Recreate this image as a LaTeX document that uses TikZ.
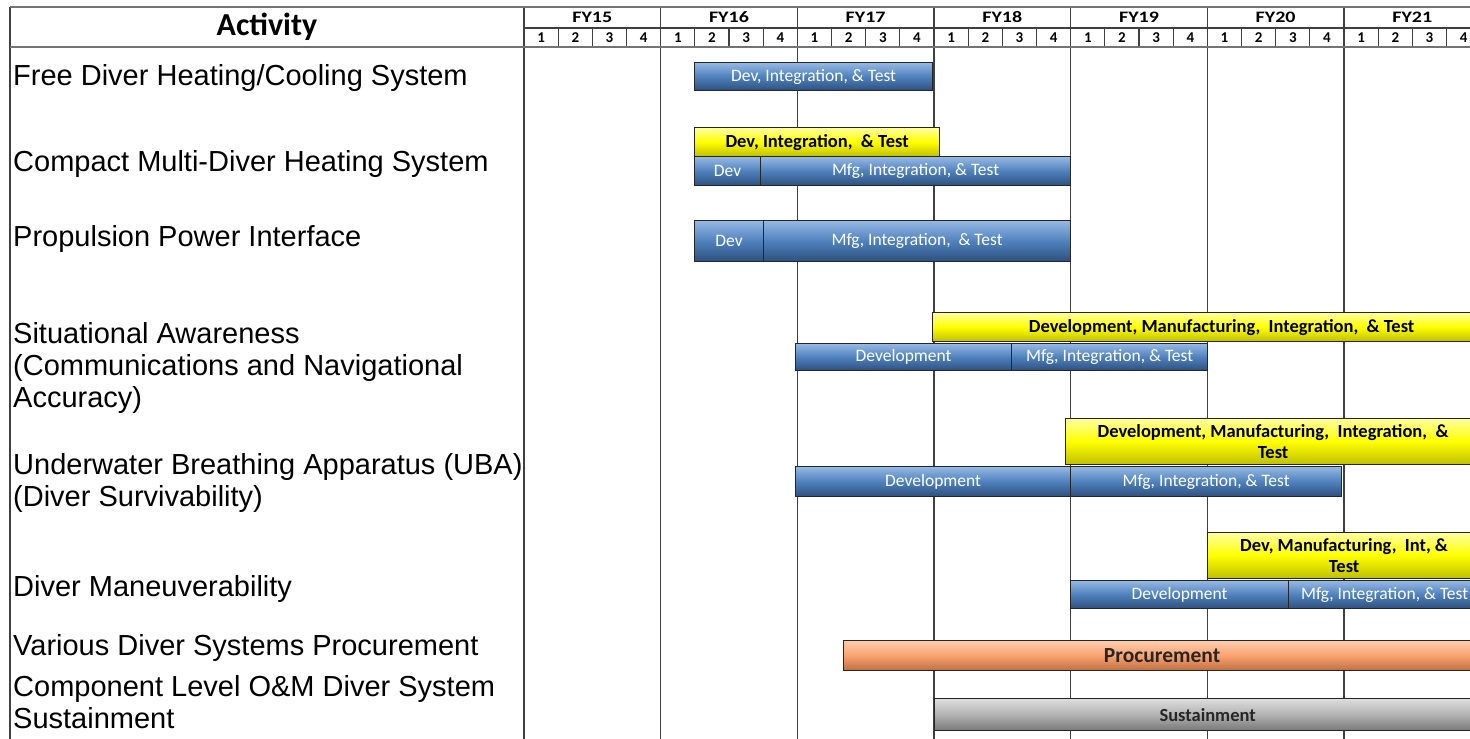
\documentclass[tikz,border=0pt]{standalone}
\usepackage{fontspec}
\setmainfont{Liberation Sans}
\newfontfamily\calibri{Carlito}
\newfontfamily\calwide[FakeStretch=1.25]{Carlito}
\usetikzlibrary{positioning}

\definecolor{barblue}{RGB}{79,129,189}
\definecolor{bluetop}{RGB}{150,185,228}
\definecolor{bluebot}{RGB}{45,80,125}
\definecolor{baryellow}{RGB}{255,255,0}
\definecolor{yellowtop}{RGB}{255,255,160}
\definecolor{yellowbot}{RGB}{190,190,0}
\definecolor{barorange}{RGB}{250,162,112}
\definecolor{orangetop}{RGB}{253,205,175}
\definecolor{orangebot}{RGB}{190,110,65}
\definecolor{bargray}{RGB}{178,178,178}
\definecolor{graytop}{RGB}{222,222,222}
\definecolor{graybot}{RGB}{120,120,120}

\tikzstyle{gridline} = [draw=black!75, line width=1.2pt]
\tikzstyle{headline} = [draw=black!55, line width=2.4pt]
\tikzstyle{actlabel} = [anchor=base west, inner sep=0pt, align=left,
    font=\fontsize{29}{32}\selectfont]
\tikzstyle{fylabel} = [inner sep=0pt, font=\calwide\bfseries\fontsize{16}{18}\selectfont]
\tikzstyle{qlabel} = [inner sep=0pt, font=\calibri\bfseries\fontsize{15}{17}\selectfont]
\tikzstyle{bar} = [draw=black!85, line width=1.2pt, rectangle, anchor=north west,
    inner sep=0pt, align=center]
\tikzstyle{bluebar} = [bar, top color=bluetop, bottom color=bluebot, middle color=barblue,
    text=white, font=\calibri\fontsize{17.5}{20}\selectfont]
\tikzstyle{yellowbar} = [bar, top color=yellowtop, bottom color=yellowbot, middle color=baryellow,
    text=black, font=\calibri\bfseries\fontsize{18.5}{21}\selectfont]
\tikzstyle{orangebar} = [bar, top color=orangetop, bottom color=orangebot, middle color=barorange,
    text=black!85, font=\calibri\bfseries\fontsize{21.5}{24}\selectfont]
\tikzstyle{graybar} = [bar, top color=graytop, bottom color=graybot, middle color=bargray,
    text=black!85, font=\calibri\bfseries\fontsize{18.5}{21}\selectfont]

\begin{document}
\begin{tikzpicture}[x=1pt, y=-1pt]
    \useasboundingbox (0,0) rectangle (1470,739);
    \clip (0,0) rectangle (1470,739);
%------------ Grid and header ---------------------
    \foreach \i in {0,...,6}
        \draw[gridline] (524+136.67*\i,7) -- (524+136.67*\i,739);
    \foreach \q in {1,...,28}
        \draw[gridline] (524+34.167*\q,28) -- (524+34.167*\q,47);
    \draw[gridline] (10,7) -- (10,739);
    \draw[gridline] (524,28) -- (1470,28);
    \draw[headline] (10,7) -- (1470,7);
    \draw[headline] (10,47) -- (1470,47);

    \node[font=\calibri\bfseries\fontsize{32}{36}\selectfont] (act) at (267,27) {Activity};
    \foreach \i in {0,...,6} {
        \pgfmathtruncatemacro{\fy}{15+\i}
        \node[fylabel] (fy\fy) at (592.3+136.67*\i,17) {FY\fy};
        \foreach \q in {1,...,4}
            \node[qlabel] (q\fy-\q) at (507+136.67*\i+34.167*\q,37.5) {\q};
    }

%------------ Activities ---------------------
    \node[actlabel] (heatcool) at (13,85) {Free Diver Heating/Cooling System};
    \node[actlabel] (compact) at (13,171) {Compact Multi-Diver Heating System};
    \node[actlabel] (propul) at (13,246) {Propulsion Power Interface};
    \node[actlabel] (situ) at (13,407) {Situational Awareness\\(Communications and Navigational\\Accuracy)};
    \node[actlabel] (uba) at (13,506) {Underwater Breathing Apparatus (UBA)\\(Diver Survivability)};
    \node[actlabel] (maneuv) at (13,596) {Diver Maneuverability};
    \node[actlabel] (procure) at (13,655) {Various Diver Systems Procurement};
    \node[actlabel] (sustain) at (13,728) {Component Level O\&M Diver System\\Sustainment};

%------------ Bars ---------------------
    \node[bluebar, minimum width=238, minimum height=28] (heatcoolDit) at (694,62) {Dev, Integration, \& Test};

    \node[yellowbar, minimum width=245, minimum height=29] (compactDit) at (694,127) {Dev, Integration,\ \ \& Test};
    \node[bluebar, minimum width=66, minimum height=29] (compactDev) at (694,156) {Dev};
    \node[bluebar, minimum width=310, minimum height=29] (compactMfg) at (760,156) {Mfg, Integration, \& Test};

    \node[bluebar, minimum width=69, minimum height=41] (propulDev) at (694,220) {Dev};
    \node[bluebar, minimum width=307, minimum height=41] (propulMfg) at (763,220) {Mfg, Integration,\ \ \& Test};

    \node[yellowbar, minimum width=578, minimum height=29] (situDmit) at (932,312) {Development, Manufacturing,\ \ Integration,\ \ \& Test};
    \node[bluebar, minimum width=216, minimum height=27] (situDev) at (795,343) {Development};
    \node[bluebar, minimum width=196, minimum height=27] (situMfg) at (1011,343) {Mfg, Integration, \& Test};

    \node[yellowbar, minimum width=415, minimum height=46] (ubaDmit) at (1065,418) {Development, Manufacturing,\ \ Integration,\ \ \&\\Test};
    \node[bluebar, minimum width=275, minimum height=30] (ubaDev) at (795,466) {Development};
    \node[bluebar, minimum width=271, minimum height=30] (ubaMfg) at (1070,466) {Mfg, Integration, \& Test};

    \node[yellowbar, minimum width=273, minimum height=46] (maneuvDmit) at (1207,532) {Dev, Manufacturing,\ \ Int, \&\\Test};
    \node[bluebar, minimum width=218, minimum height=28] (maneuvDev) at (1070,580) {Development};
    \node[bluebar, minimum width=192, minimum height=28] (maneuvMfg) at (1288,580) {Mfg, Integration, \& Test};

    \node[orangebar, minimum width=637, minimum height=30] (procureBar) at (843,640) {Procurement};
    \node[graybar, minimum width=546, minimum height=32] (sustainBar) at (934,698) {Sustainment};
\end{tikzpicture}
\end{document}
